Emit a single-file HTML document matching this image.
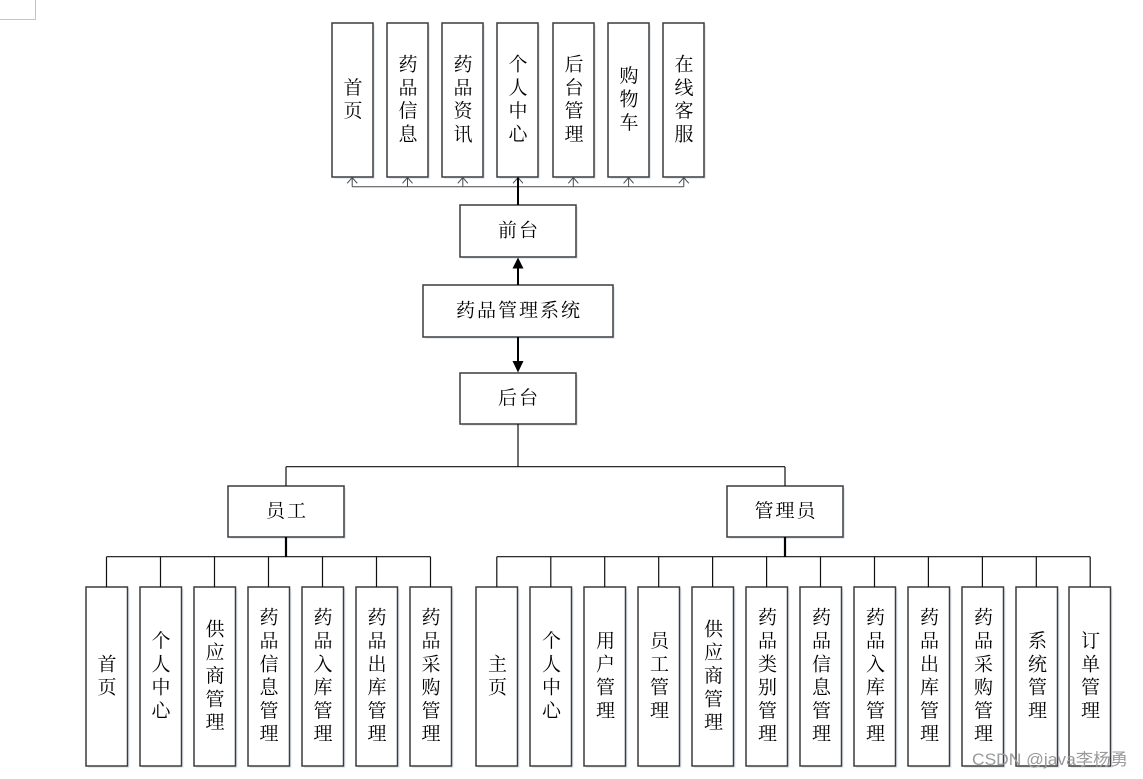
<!DOCTYPE html>
<html>
<head>
<meta charset="utf-8">
<style>
  html,body{margin:0;padding:0;background:#fff;}
  svg{display:block;}
  text{font-family:"Liberation Serif","Noto Serif CJK SC",serif;fill:#000;}
  text.wm{font-family:"Liberation Sans","Noto Sans CJK SC",sans-serif;}
</style>
</head>
<body>
<svg width="1143" height="779" viewBox="0 0 1143 779" xmlns="http://www.w3.org/2000/svg">
  <!-- corner mark -->
  <path d="M35.5 0 V19.5 H0" fill="none" stroke="#c4c4c4" stroke-width="1"/>

  <g id="shadows" fill="#e4ebf5">
    <rect x="334" y="25" width="41" height="154"/>
    <rect x="389" y="25" width="41" height="154"/>
    <rect x="444" y="25" width="41" height="154"/>
    <rect x="499" y="25" width="41" height="154"/>
    <rect x="555" y="25" width="41" height="154"/>
    <rect x="610" y="25" width="41" height="154"/>
    <rect x="665" y="25" width="41" height="154"/>
    <rect x="462" y="207" width="116" height="52"/>
    <rect x="425" y="287" width="190" height="52"/>
    <rect x="462" y="375" width="116" height="51"/>
    <rect x="230" y="488" width="116" height="51"/>
    <rect x="729" y="488" width="116" height="51"/>
  </g>

  <g fill="#fff" stroke="#3c3c3c" stroke-width="1.5">
    <rect x="332" y="23" width="41" height="154"/>
    <rect x="387" y="23" width="41" height="154"/>
    <rect x="442" y="23" width="41" height="154"/>
    <rect x="497" y="23" width="41" height="154"/>
    <rect x="553" y="23" width="41" height="154"/>
    <rect x="608" y="23" width="41" height="154"/>
    <rect x="663" y="23" width="41" height="154"/>
    <rect x="460" y="205" width="116" height="52"/>
    <rect x="423" y="285" width="190" height="52"/>
    <rect x="460" y="373" width="116" height="51"/>
    <rect x="228" y="486" width="116" height="51"/>
    <rect x="727" y="486" width="116" height="51"/>
  </g>

  <g fill="#e4ebf5">
    <rect x="88" y="589" width="41.5" height="179"/>
    <rect x="142" y="589" width="41.5" height="179"/>
    <rect x="196" y="589" width="41.5" height="179"/>
    <rect x="250" y="589" width="41.5" height="179"/>
    <rect x="304" y="589" width="41.5" height="179"/>
    <rect x="358" y="589" width="41.5" height="179"/>
    <rect x="412" y="589" width="41.5" height="179"/>
    <rect x="478" y="589" width="41.5" height="179"/>
    <rect x="532" y="589" width="41.5" height="179"/>
    <rect x="586" y="589" width="41.5" height="179"/>
    <rect x="640" y="589" width="41.5" height="179"/>
    <rect x="694" y="589" width="41.5" height="179"/>
    <rect x="748" y="589" width="41.5" height="179"/>
    <rect x="802" y="589" width="41.5" height="179"/>
    <rect x="856" y="589" width="41.5" height="179"/>
    <rect x="910" y="589" width="41.5" height="179"/>
    <rect x="964" y="589" width="41.5" height="179"/>
    <rect x="1018" y="589" width="41.5" height="179"/>
    <rect x="1071" y="589" width="41.5" height="179"/>
  </g>
  <g fill="#fff" stroke="#3c3c3c" stroke-width="1.5">
    <rect x="86" y="587" width="41.5" height="179"/>
    <rect x="140" y="587" width="41.5" height="179"/>
    <rect x="194" y="587" width="41.5" height="179"/>
    <rect x="248" y="587" width="41.5" height="179"/>
    <rect x="302" y="587" width="41.5" height="179"/>
    <rect x="356" y="587" width="41.5" height="179"/>
    <rect x="410" y="587" width="41.5" height="179"/>
    <rect x="476" y="587" width="41.5" height="179"/>
    <rect x="530" y="587" width="41.5" height="179"/>
    <rect x="584" y="587" width="41.5" height="179"/>
    <rect x="638" y="587" width="41.5" height="179"/>
    <rect x="692" y="587" width="41.5" height="179"/>
    <rect x="746" y="587" width="41.5" height="179"/>
    <rect x="800" y="587" width="41.5" height="179"/>
    <rect x="854" y="587" width="41.5" height="179"/>
    <rect x="908" y="587" width="41.5" height="179"/>
    <rect x="962" y="587" width="41.5" height="179"/>
    <rect x="1016" y="587" width="41.5" height="179"/>
    <rect x="1069" y="587" width="41.5" height="179"/>
  </g>

  <!-- top connectors -->
  <g fill="none" stroke="#4a4a4a" stroke-width="1">
    <path d="M352.2 186.7 H683.8"/>
    <path d="M352.2 186.7 V177.5 M407.5 186.7 V177.5 M462.8 186.7 V177.5 M573.3 186.7 V177.5 M628.6 186.7 V177.5 M683.8 186.7 V177.5"/>
    <path d="M347.2 183.3 L352.2 177.5 L357.2 183.3 M402.5 183.3 L407.5 177.5 L412.5 183.3 M457.8 183.3 L462.8 177.5 L467.8 183.3 M513 183.3 L518 177.5 L523 183.3 M568.3 183.3 L573.3 177.5 L578.3 183.3 M623.6 183.3 L628.6 177.5 L633.6 183.3 M678.8 183.3 L683.8 177.5 L688.8 183.3"/>
  </g>
  <path d="M518 205 V177.5" stroke="#000" stroke-width="2"/>

  <!-- main arrows -->
  <path d="M518 285 V267" stroke="#000" stroke-width="2"/>
  <polygon points="518,257.5 512.5,268.5 523.5,268.5" fill="#000"/>
  <path d="M518 337 V362" stroke="#000" stroke-width="2"/>
  <polygon points="518,372.5 512.5,361 523.5,361" fill="#000"/>

  <!-- backend tree -->
  <g fill="none" stroke="#111" stroke-width="1.2">
    <path d="M518 424 V466.7 M286 466.7 H785 M286 466.7 V486 M785 466.7 V486"/>
    <path d="M106.5 556.7 H430.5"/>
    <path d="M106.5 556.7 V587 M160.5 556.7 V587 M214.5 556.7 V587 M268.5 556.7 V587 M322.5 556.7 V587 M376.5 556.7 V587 M430.5 556.7 V587"/>
    <path d="M496.8 556.7 H1090.2"/>
    <path d="M496.8 556.7 V587 M550.8 556.7 V587 M604.7 556.7 V587 M658.7 556.7 V587 M712.6 556.7 V587 M766.6 556.7 V587 M820.5 556.7 V587 M874.5 556.7 V587 M928.4 556.7 V587 M982.4 556.7 V587 M1036.3 556.7 V587 M1090.2 556.7 V587"/>
  </g>
  <path d="M286 537 V557 M785 537 V557" stroke="#000" stroke-width="2.2"/>

  <!-- horizontal labels -->
  <g font-size="19" text-anchor="middle" dominant-baseline="central" letter-spacing="2">
    <text x="519" y="231">前台</text>
    <text x="519" y="311">药品管理系统</text>
    <text x="519" y="398.5">后台</text>
    <text x="287" y="511.5">员工</text>
    <text x="786" y="511.5">管理员</text>
  </g>

  <!-- vertical labels -->
  <g font-size="19" text-anchor="middle" dominant-baseline="central">
    <text x="353" y="88.4">首</text><text x="353" y="111.7">页</text>
    <text x="408" y="65">药</text><text x="408" y="88.4">品</text><text x="408" y="111.7">信</text><text x="408" y="135">息</text>
    <text x="463" y="65">药</text><text x="463" y="88.4">品</text><text x="463" y="111.7">资</text><text x="463" y="135">讯</text>
    <text x="518" y="65">个</text><text x="518" y="88.4">人</text><text x="518" y="111.7">中</text><text x="518" y="135">心</text>
    <text x="574" y="65">后</text><text x="574" y="88.4">台</text><text x="574" y="111.7">管</text><text x="574" y="135">理</text>
    <text x="629" y="76.7">购</text><text x="629" y="100">物</text><text x="629" y="123.3">车</text>
    <text x="684" y="65">在</text><text x="684" y="88.4">线</text><text x="684" y="111.7">客</text><text x="684" y="135">服</text>

    <text x="107" y="664.8">首</text><text x="107" y="688.1">页</text>
    <text x="161" y="641.5">个</text><text x="161" y="664.8">人</text><text x="161" y="688.1">中</text><text x="161" y="711.4">心</text>
    <text x="215" y="629.8">供</text><text x="215" y="653.1">应</text><text x="215" y="676.5">商</text><text x="215" y="699.8">管</text><text x="215" y="723.1">理</text>
    <text x="269" y="618.2">药</text><text x="269" y="641.5">品</text><text x="269" y="664.8">信</text><text x="269" y="688.1">息</text><text x="269" y="711.4">管</text><text x="269" y="734.7">理</text>
    <text x="323" y="618.2">药</text><text x="323" y="641.5">品</text><text x="323" y="664.8">入</text><text x="323" y="688.1">库</text><text x="323" y="711.4">管</text><text x="323" y="734.7">理</text>
    <text x="377" y="618.2">药</text><text x="377" y="641.5">品</text><text x="377" y="664.8">出</text><text x="377" y="688.1">库</text><text x="377" y="711.4">管</text><text x="377" y="734.7">理</text>
    <text x="431" y="618.2">药</text><text x="431" y="641.5">品</text><text x="431" y="664.8">采</text><text x="431" y="688.1">购</text><text x="431" y="711.4">管</text><text x="431" y="734.7">理</text>

    <text x="497.5" y="664.8">主</text><text x="497.5" y="688.1">页</text>
    <text x="551.5" y="641.5">个</text><text x="551.5" y="664.8">人</text><text x="551.5" y="688.1">中</text><text x="551.5" y="711.4">心</text>
    <text x="605.5" y="641.5">用</text><text x="605.5" y="664.8">户</text><text x="605.5" y="688.1">管</text><text x="605.5" y="711.4">理</text>
    <text x="659.5" y="641.5">员</text><text x="659.5" y="664.8">工</text><text x="659.5" y="688.1">管</text><text x="659.5" y="711.4">理</text>
    <text x="713.5" y="629.8">供</text><text x="713.5" y="653.1">应</text><text x="713.5" y="676.5">商</text><text x="713.5" y="699.8">管</text><text x="713.5" y="723.1">理</text>
    <text x="767.5" y="618.2">药</text><text x="767.5" y="641.5">品</text><text x="767.5" y="664.8">类</text><text x="767.5" y="688.1">别</text><text x="767.5" y="711.4">管</text><text x="767.5" y="734.7">理</text>
    <text x="821.5" y="618.2">药</text><text x="821.5" y="641.5">品</text><text x="821.5" y="664.8">信</text><text x="821.5" y="688.1">息</text><text x="821.5" y="711.4">管</text><text x="821.5" y="734.7">理</text>
    <text x="875.5" y="618.2">药</text><text x="875.5" y="641.5">品</text><text x="875.5" y="664.8">入</text><text x="875.5" y="688.1">库</text><text x="875.5" y="711.4">管</text><text x="875.5" y="734.7">理</text>
    <text x="929.5" y="618.2">药</text><text x="929.5" y="641.5">品</text><text x="929.5" y="664.8">出</text><text x="929.5" y="688.1">库</text><text x="929.5" y="711.4">管</text><text x="929.5" y="734.7">理</text>
    <text x="983.5" y="618.2">药</text><text x="983.5" y="641.5">品</text><text x="983.5" y="664.8">采</text><text x="983.5" y="688.1">购</text><text x="983.5" y="711.4">管</text><text x="983.5" y="734.7">理</text>
    <text x="1037.5" y="641.5">系</text><text x="1037.5" y="664.8">统</text><text x="1037.5" y="688.1">管</text><text x="1037.5" y="711.4">理</text>
    <text x="1090.5" y="641.5">订</text><text x="1090.5" y="664.8">单</text><text x="1090.5" y="688.1">管</text><text x="1090.5" y="711.4">理</text>
  </g>

  <!-- watermark -->
  <text class="wm" x="972" y="765" font-size="16.5" style="fill:#9a9a9a" textLength="156" lengthAdjust="spacingAndGlyphs">CSDN @java李杨勇</text>
</svg>
</body>
</html>
